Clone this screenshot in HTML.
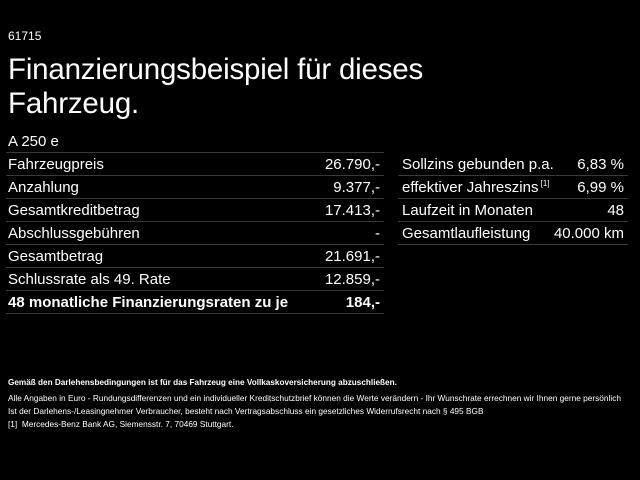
<!DOCTYPE html>
<html><head><style>
body{margin:0;width:640px;height:480px;background:#000;color:#fff;font-family:"Liberation Sans",Arial,sans-serif;position:relative;overflow:hidden}
.a{position:absolute;white-space:nowrap}
.row{position:absolute;height:23px;line-height:23px;font-size:15px;border-bottom:1px solid #3a3a3a;box-sizing:border-box}
.row span{position:absolute;right:4px;top:0}
sup{font-size:8px;position:relative;top:-6px;vertical-align:baseline;line-height:0}
</style></head><body>
<div class="a" style="left:8px;top:29px;font-size:12px">61715</div>
<div class="a" style="left:8px;top:53px;font-size:29.5px;line-height:34px;letter-spacing:-0.2px">Finanzierungsbeispiel für dieses<br>Fahrzeug.</div>
<div class="row" style="left:6px;top:130px;width:378px;padding-left:2px">A 250 e</div>
<div class="row" style="left:6px;top:153px;width:378px;padding-left:2px">Fahrzeugpreis<span>26.790,-</span></div>
<div class="row" style="left:6px;top:176px;width:378px;padding-left:2px">Anzahlung<span>9.377,-</span></div>
<div class="row" style="left:6px;top:199px;width:378px;padding-left:2px">Gesamtkreditbetrag<span>17.413,-</span></div>
<div class="row" style="left:6px;top:222px;width:378px;padding-left:2px">Abschlussgebühren<span>-</span></div>
<div class="row" style="left:6px;top:245px;width:378px;padding-left:2px">Gesamtbetrag<span>21.691,-</span></div>
<div class="row" style="left:6px;top:268px;width:378px;padding-left:2px">Schlussrate als 49. Rate<span>12.859,-</span></div>
<div class="row" style="left:6px;top:291px;width:378px;padding-left:2px;font-weight:bold">48 monatliche Finanzierungsraten zu je<span>184,-</span></div>
<div class="row" style="left:398px;top:153px;width:230px;padding-left:4px">Sollzins gebunden p.a.<span>6,83 %</span></div>
<div class="row" style="left:398px;top:176px;width:230px;padding-left:4px">effektiver Jahreszins<sup> [1]</sup><span>6,99 %</span></div>
<div class="row" style="left:398px;top:199px;width:230px;padding-left:4px">Laufzeit in Monaten<span>48</span></div>
<div class="row" style="left:398px;top:222px;width:230px;padding-left:4px">Gesamtlaufleistung<span>40.000 km</span></div>
<div class="a" style="left:8px;top:378px;font-size:8.2px;font-weight:bold">Gemäß den Darlehensbedingungen ist für das Fahrzeug eine Vollkaskoversicherung abzuschließen.</div>
<div class="a" style="left:8px;top:392px;font-size:8.3px;line-height:13px">Alle Angaben in Euro - Rundungsdifferenzen und ein individueller Kreditschutzbrief können die Werte verändern - Ihr Wunschrate errechnen wir Ihnen gerne persönlich<br>Ist der Darlehens-/Leasingnehmer Verbraucher, besteht nach Vertragsabschluss ein gesetzliches Widerrufsrecht nach § 495 BGB</div>
<div class="a" style="left:8px;top:419px;font-size:8.3px">[1]&nbsp; Mercedes-Benz Bank AG, Siemensstr. 7, 70469 Stuttgart.</div>
</body></html>
